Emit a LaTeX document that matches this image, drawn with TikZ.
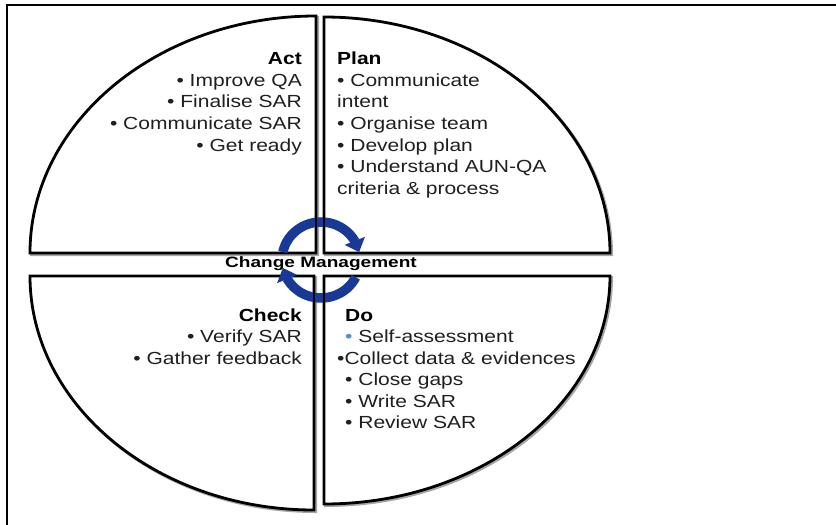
\documentclass[tikz,border=0pt]{standalone}
\usepackage{fontspec}
\usetikzlibrary{arrows.meta,bending}
\newfontfamily\bodyfont{Liberation Sans}[FakeStretch=1.2]
\newfontfamily\titlefont{Liberation Sans}[FakeStretch=1.2]
\newfontfamily\cmfont{Liberation Sans}[FakeStretch=1.27]
\definecolor{ringblue}{RGB}{24,58,150}
\definecolor{bulletblue}{RGB}{90,140,200}
\tikzset{
  quad/.style={draw=black,fill=white,line width=2.8pt,line join=miter},
  qshadow/.style={draw=black!35,line width=3pt},
  ringarrow/.style={draw=ringblue,line width=9.5pt,-{Triangle[width=21pt,length=12pt,flex]}},
  bodytext/.style={font=\bodyfont\fontsize{17.5}{21}\selectfont,inner sep=0pt,text=black!88},
  titletext/.style={font=\titlefont\bfseries\fontsize{17.5}{21}\selectfont,inner sep=0pt},
  cmtext/.style={font=\cmfont\bfseries\fontsize{15}{18}\selectfont,inner sep=0pt},
}
\begin{document}
\begin{tikzpicture}[x=1pt,y=1pt]
\useasboundingbox (0,0) rectangle (836,-525);
% frame (top and left only)
\draw[line width=2pt] (6.5,-525) -- (6.5,-5) -- (836,-5);
% shadows
\begin{scope}[shift={(1.5,-1.5)}]
\draw[qshadow] (316,-253) -- (316,-16) arc[start angle=90,end angle=180,x radius=286,y radius=237] -- cycle;
\draw[qshadow] (324,-253) -- (324,-17) arc[start angle=90,end angle=0,x radius=286,y radius=236] -- cycle;
\draw[qshadow] (314,-276) -- (30,-276) arc[start angle=180,end angle=270,x radius=284,y radius=234] -- cycle;
\draw[qshadow] (324,-276) -- (610,-276) arc[start angle=0,end angle=-90,x radius=286,y radius=228] -- cycle;
\end{scope}
% quadrants
\path[quad] (316,-253) -- (316,-16) arc[start angle=90,end angle=180,x radius=286,y radius=237] -- cycle;
\path[quad] (324,-253) -- (324,-17) arc[start angle=90,end angle=0,x radius=286,y radius=236] -- cycle;
\path[quad] (314,-276) -- (30,-276) arc[start angle=180,end angle=270,x radius=284,y radius=234] -- cycle;
\path[quad] (324,-276) -- (610,-276) arc[start angle=0,end angle=-90,x radius=286,y radius=228] -- cycle;
% ring arrows
\coordinate (c) at (321,-260);
\draw[ringarrow] (c) ++(168:39 and 38) arc[start angle=168,end angle=12,x radius=39,y radius=38];
\draw[ringarrow] (c) ++(-27:39 and 38) arc[start angle=-27,end angle=-168,x radius=39,y radius=38];
% redraw quadrant outlines over ring
\draw[line width=2.8pt] (316,-253) -- (316,-212);
\draw[line width=2.8pt] (324,-253) -- (324,-212);
\draw[line width=2.8pt] (314,-276) -- (314,-308);
\draw[line width=2.8pt] (324,-276) -- (324,-308);
% center label
\node[cmtext,anchor=base] (cmlabel) at (321,-267) {Change Management};
% Act
\node[titletext,anchor=base east] (act0) at (302,-64) {Act};
\node[bodytext,anchor=base east] (act1) at (302,-86) {• Improve QA};
\node[bodytext,anchor=base east] (act2) at (302,-107.5) {• Finalise SAR};
\node[bodytext,anchor=base east] (act3) at (302,-129) {• Communicate SAR};
\node[bodytext,anchor=base east] (act4) at (302,-151) {• Get ready};
% Plan
\node[titletext,anchor=base west] (plan0) at (337,-64) {Plan};
\node[bodytext,anchor=base west] (plan1) at (337,-86) {• Communicate};
\node[bodytext,anchor=base west] (plan2) at (337,-107.5) {intent};
\node[bodytext,anchor=base west] (plan3) at (337,-129) {• Organise team};
\node[bodytext,anchor=base west] (plan4) at (337,-151) {• Develop plan};
\node[bodytext,anchor=base west] (plan5) at (337,-172.5) {• Understand AUN-QA};
\node[bodytext,anchor=base west] (plan6) at (337,-194) {criteria \& process};
% Check
\node[titletext,anchor=base east] (check0) at (302,-321) {Check};
\node[bodytext,anchor=base east] (check1) at (302,-342.5) {• Verify SAR};
\node[bodytext,anchor=base east] (check2) at (302,-364) {• Gather feedback};
% Do
\node[titletext,anchor=base west] (do0) at (345,-321) {Do};
\node[bodytext,anchor=base west] (do1) at (345,-342.5) {{\color{bulletblue}•} Self-assessment};
\node[bodytext,anchor=base west] (do2) at (337,-364) {•Collect data \& evidences};
\node[bodytext,anchor=base west] (do3) at (345,-385.5) {• Close gaps};
\node[bodytext,anchor=base west] (do4) at (345,-407) {• Write SAR};
\node[bodytext,anchor=base west] (do5) at (345,-428.5) {• Review SAR};
\end{tikzpicture}
\end{document}
